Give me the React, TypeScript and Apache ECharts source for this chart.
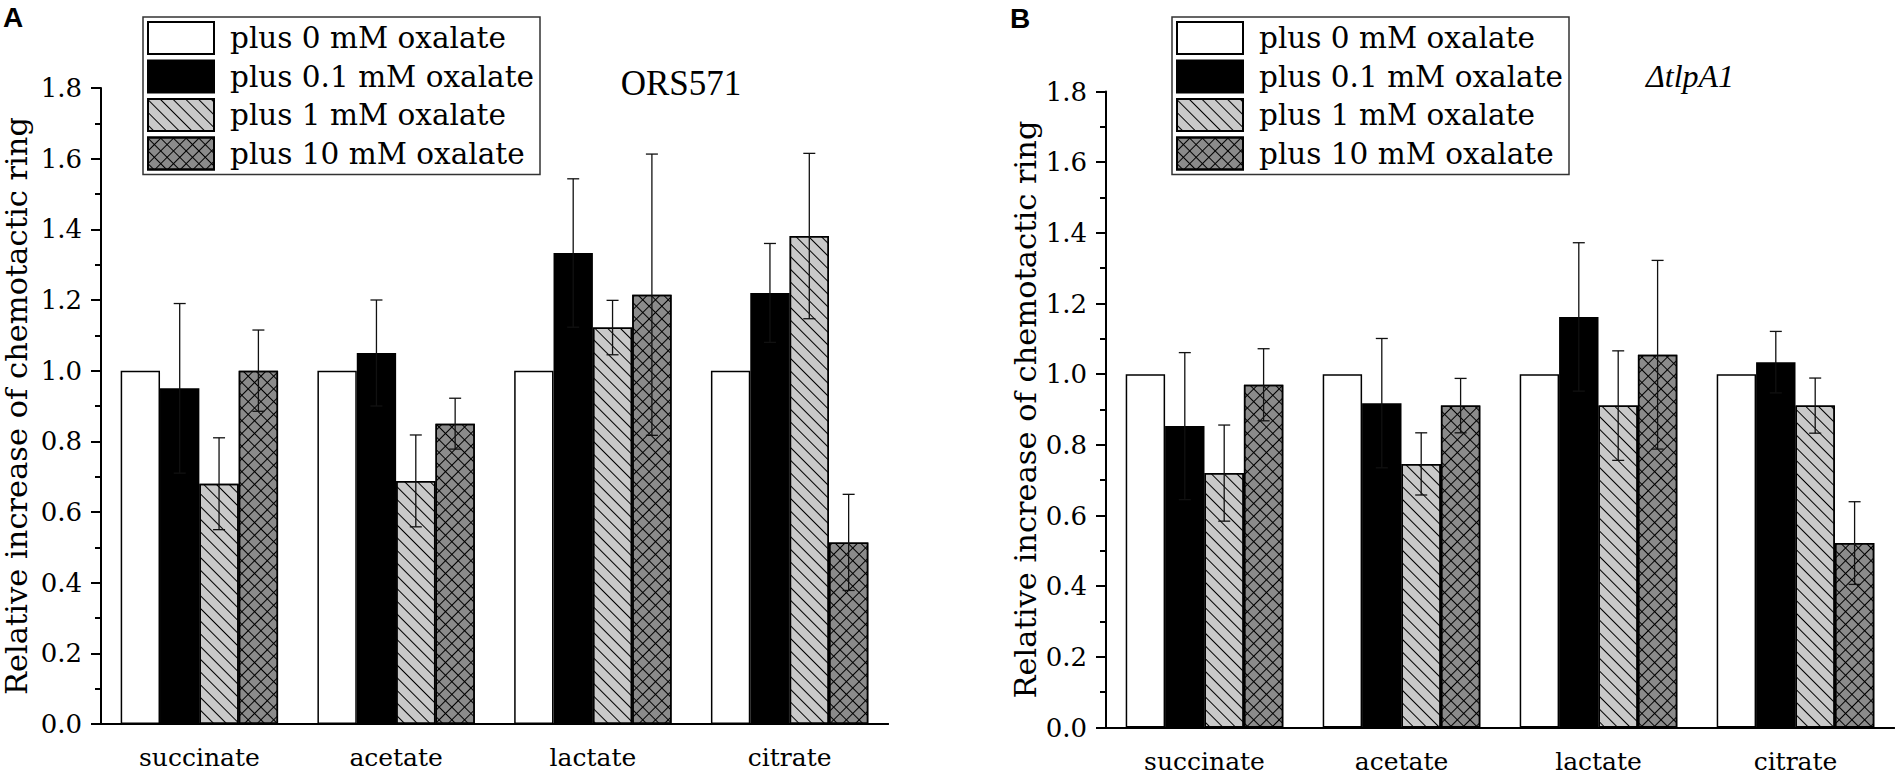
import React, { useEffect, useRef } from "react";
import * as echarts from "echarts";

const CATEGORIES = ["succinate", "acetate", "lactate", "citrate"];
const GROUPS = ["plus 0 mM oxalate", "plus 0.1 mM oxalate", "plus 1 mM oxalate", "plus 10 mM oxalate"];
const Y_TICKS = [0, 0.2, 0.4, 0.6, 0.8, 1.0, 1.2, 1.4, 1.6, 1.8];

// Panel A (ORS571)
const A_0 = [1.0, 1.0, 1.0, 1.0];
const A_0_ERR = [0, 0, 0, 0];
const A_01 = [0.95, 1.05, 1.333, 1.22];
const A_01_ERR = [0.24, 0.15, 0.21, 0.14];
const A_1 = [0.68, 0.688, 1.122, 1.381];
const A_1_ERR = [0.13, 0.13, 0.077, 0.234];
const A_10 = [1.0, 0.85, 1.215, 0.514];
const A_10_ERR = [0.115, 0.072, 0.398, 0.136];

// Panel B (ΔtlpA1)
const B_0 = [1.0, 1.0, 1.0, 1.0];
const B_0_ERR = [0, 0, 0, 0];
const B_01 = [0.853, 0.918, 1.162, 1.034];
const B_01_ERR = [0.208, 0.183, 0.21, 0.087];
const B_1 = [0.72, 0.746, 0.911, 0.911];
const B_1_ERR = [0.136, 0.088, 0.155, 0.078];
const B_10 = [0.97, 0.911, 1.055, 0.522];
const B_10_ERR = [0.102, 0.077, 0.267, 0.117];

const PANEL_A = [A_0, A_01, A_1, A_10];
const PANEL_A_ERR = [A_0_ERR, A_01_ERR, A_1_ERR, A_10_ERR];
const PANEL_B = [B_0, B_01, B_1, B_10];
const PANEL_B_ERR = [B_0_ERR, B_01_ERR, B_1_ERR, B_10_ERR];

const FONT = "DejaVu Serif";

const hatch = {
  symbol: "rect",
  symbolSize: 1,
  symbolKeepAspect: false,
  color: "#000",
  dashArrayX: [1, 0],
  dashArrayY: [1, 8],
  rotation: Math.PI / 4,
};
const cross = {
  symbol: "rect",
  symbolSize: 1,
  symbolKeepAspect: false,
  color: "#000",
  dashArrayX: [
    [1, 0],
    [1, 8],
  ],
  dashArrayY: [1, 0, 8, 0],
  rotation: Math.PI / 4,
};

const STYLES: any[] = [
  { color: "#ffffff", borderColor: "#000", borderWidth: 1.5 },
  { color: "#000000", borderColor: "#000", borderWidth: 1.5 },
  { color: "#c9c9c9", borderColor: "#000", borderWidth: 1.5, decal: hatch },
  { color: "#8b8b8b", borderColor: "#000", borderWidth: 1.5, decal: cross },
];

function buildOption() {
  const grids = [
    { left: 99, top: 88, width: 789, height: 636 },
    { left: 1106, top: 91.5, width: 788, height: 636 },
  ];
  const xAxes: any[] = [];
  const yAxes: any[] = [];
  const nameGaps = [69, 65];
  grids.forEach((g, gi) => {
    xAxes.push({
      type: "category",
      gridIndex: gi,
      position: "bottom",
      data: CATEGORIES,
      axisLine: { lineStyle: { color: "#000", width: 2 } },
      axisTick: { alignWithLabel: true, length: 12, lineStyle: { color: "#000", width: 2 } },
      axisLabel: { color: "#000", fontFamily: FONT, fontSize: 25, lineHeight: 25, margin: 21 },
      splitLine: { show: false },
    });
    xAxes.push({
      type: "category",
      gridIndex: gi,
      position: "bottom",
      data: CATEGORIES,
      axisLine: { lineStyle: { color: "#000", width: 2 } },
      axisTick: { alignWithLabel: false, length: 6, lineStyle: { color: "#000", width: 2 } },
      axisLabel: { show: false },
      splitLine: { show: false },
    });
    yAxes.push({
      type: "value",
      gridIndex: gi,
      min: Y_TICKS[0],
      max: Y_TICKS[Y_TICKS.length - 1],
      interval: 0.2,
      name: "Relative increase of chemotactic ring",
      nameLocation: "middle",
      nameGap: nameGaps[gi],
      nameTextStyle: { color: "#000", fontFamily: FONT, fontSize: 30.5 },
      axisLine: { show: true, lineStyle: { color: "#000", width: 2 } },
      axisTick: { show: true, length: 10, lineStyle: { color: "#000", width: 2 } },
      minorTick: { show: true, splitNumber: 2, length: 6, lineStyle: { color: "#000", width: 2 } },
      axisLabel: {
        color: "#000",
        fontFamily: FONT,
        fontSize: 26,
        margin: 19,
        formatter: (v: number) => v.toFixed(1),
      },
      splitLine: { show: false },
    });
  });

  const series: any[] = [];
  const panels = [
    [PANEL_A, PANEL_A_ERR],
    [PANEL_B, PANEL_B_ERR],
  ];
  panels.forEach(([vals, errs], pi) => {
    GROUPS.forEach((name, k) => {
      series.push({
        type: "bar",
        name,
        xAxisIndex: pi * 2,
        yAxisIndex: pi,
        data: (vals as number[][])[k],
        barGap: "0%",
        barCategoryGap: "20%",
        itemStyle: STYLES[k],
        emphasis: { disabled: true },
        z: 2,
      });
    });
    const errData: number[][] = [];
    GROUPS.forEach((_, k) => {
      CATEGORIES.forEach((_c, ci) => {
        const e = (errs as number[][])[k][ci];
        if (e > 0) errData.push([ci, k, (vals as number[][])[k][ci], e]);
      });
    });
    series.push({
      type: "custom",
      name: "err" + pi,
      xAxisIndex: pi * 2,
      yAxisIndex: pi,
      data: errData,
      encode: { x: 0, y: 2 },
      z: 10,
      renderItem: (params: any, api: any) => {
        const ci = api.value(0);
        const k = api.value(1);
        const v = api.value(2);
        const e = api.value(3);
        const catW = api.size([1, 0])[0];
        const bw = catW * 0.2;
        const c = api.coord([ci, v]);
        const x = c[0] + (k - 1.5) * bw;
        const yt = api.coord([ci, v + e])[1];
        const yb = api.coord([ci, v - e])[1];
        const cap = 6;
        const st = { stroke: "#111", lineWidth: 1.3 };
        return {
          type: "group",
          children: [
            { type: "line", shape: { x1: x, y1: yt, x2: x, y2: yb }, style: st },
            { type: "line", shape: { x1: x - cap, y1: yt, x2: x + cap, y2: yt }, style: st },
            { type: "line", shape: { x1: x - cap, y1: yb, x2: x + cap, y2: yb }, style: st },
          ],
        };
      },
    });
  });

  const legendBase = {
    orient: "vertical",
    top: 17,
    itemWidth: 66,
    itemHeight: 32,
    itemGap: 4.5,
    icon: "rect",
    padding: [4, 6, 4, 4],
    borderColor: "#333",
    borderWidth: 1.5,
    selectedMode: false,
    data: GROUPS,
    textStyle: { color: "#000", fontFamily: FONT, fontSize: 29.5, padding: [0, 0, 0, 11] },
  };

  return {
    animation: false,
    backgroundColor: "#fff",
    grid: grids,
    xAxis: xAxes,
    yAxis: yAxes,
    legend: [
      { ...legendBase, left: 143 },
      { ...legendBase, left: 1172 },
    ],
    series,
    graphic: [
      {
        type: "text",
        left: 3,
        top: 3,
        style: { text: "A", fontFamily: "Liberation Sans", fontWeight: "bold", fontSize: 28, fill: "#000" },
      },
      {
        type: "text",
        left: 1010,
        top: 4,
        style: { text: "B", fontFamily: "Liberation Sans", fontWeight: "bold", fontSize: 28, fill: "#000" },
      },
      {
        type: "text",
        x: 681,
        y: 83,
        style: {
          text: "ORS571",
          fontFamily: "Liberation Serif",
          fontSize: 35,
          fill: "#000",
          align: "center",
          verticalAlign: "middle",
        },
      },
      {
        type: "text",
        x: 1690,
        y: 76,
        style: {
          text: "ΔtlpA1",
          fontFamily: "Liberation Serif",
          fontStyle: "italic",
          fontSize: 32,
          fill: "#000",
          align: "center",
          verticalAlign: "middle",
        },
      },
    ],
  };
}

export default function App() {
  const ref = useRef<HTMLDivElement>(null);
  useEffect(() => {
    document.body.style.margin = "0";
    const chart = echarts.init(ref.current!, null, { renderer: "svg" });
    chart.setOption(buildOption() as any);
    return () => chart.dispose();
  }, []);
  return <div ref={ref} style={{ position: "fixed", left: 0, top: 0, width: 1900, height: 775 }} />;
}
